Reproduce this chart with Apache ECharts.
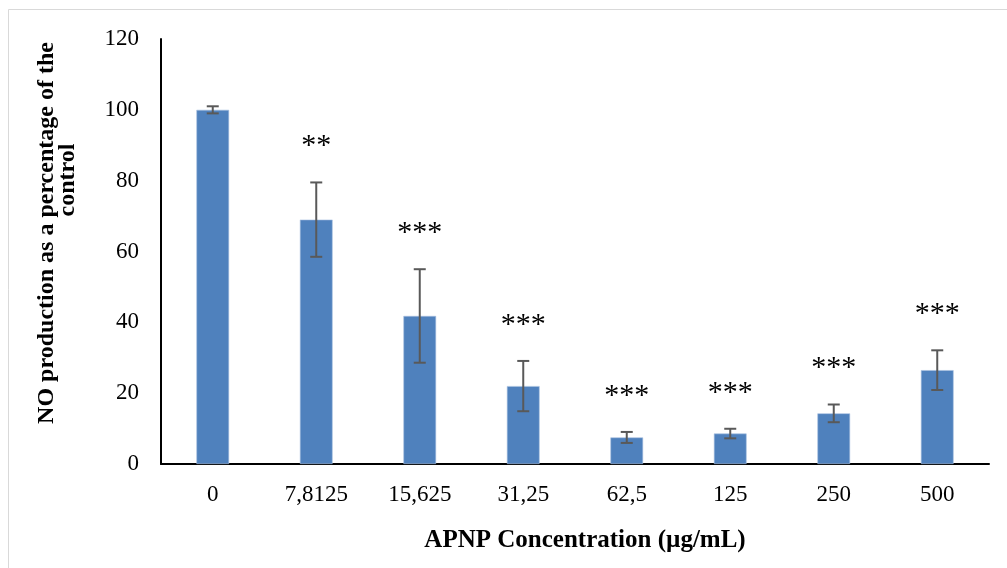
<!DOCTYPE html>
<html>
<head>
<meta charset="utf-8">
<script src="https://cdn.jsdelivr.net/npm/echarts@6/dist/echarts.min.js"></script>
<style>
html,body{margin:0;padding:0;background:#fff;}
#chart{width:1007px;height:568px;}
</style>
</head>
<body>
<div id="chart"></div>
<script>
const categories = ['0', '7,8125', '15,625', '31,25', '62,5', '125', '250', '500'];
const means = [100, 69, 41.8, 22, 7.5, 8.6, 14.3, 26.5];
const errors = [1, 10.5, 13.2, 7.1, 1.55, 1.35, 2.5, 5.6];
const significance = ['', '**', '***', '***', '***', '***', '***', '***'];
const yTicks = {min: 0, max: 120, interval: 20};
const xTitle = 'APNP Concentration (µg/mL)';
const yTitleLines = ['NO production as a percentage of the', 'control'];

const FONT = '"Liberation Serif", "Times New Roman", serif';
const chart = echarts.init(document.getElementById('chart'));

const errData = means.map((m, i) => [i, m - errors[i], m + errors[i], significance[i]]);

chart.setOption({
  animation: false,
  backgroundColor: '#fff',
  grid: {left: 161, right: 18, top: 39, bottom: 104},
  xAxis: {
    type: 'category',
    data: categories,
    axisLine: {lineStyle: {color: '#000', width: 2}},
    axisTick: {show: false},
    axisLabel: {fontFamily: FONT, fontSize: 23, color: '#000', margin: 19}
  },
  yAxis: {
    type: 'value',
    min: yTicks.min, max: yTicks.max, interval: yTicks.interval,
    axisLine: {show: true, lineStyle: {color: '#000', width: 2}},
    axisTick: {show: false},
    splitLine: {show: false},
    axisLabel: {fontFamily: FONT, fontSize: 23, color: '#000', margin: 22}
  },
  series: [
    {
      type: 'bar',
      data: means,
      barWidth: '31.6%',
      itemStyle: {color: '#4F81BD', borderColor: '#a9c1e0', borderWidth: 0.6}
    },
    {
      type: 'custom',
      data: errData,
      z: 10,
      renderItem: function (params, api) {
        const x = api.value(0);
        const lo = api.coord([x, api.value(1)]);
        const hi = api.coord([x, api.value(2)]);
        const half = 6;
        const style = {stroke: '#595959', lineWidth: 2};
        const children = [
          {type: 'line', shape: {x1: lo[0], y1: lo[1], x2: hi[0], y2: hi[1]}, style: style},
          {type: 'line', shape: {x1: lo[0] - half, y1: lo[1], x2: lo[0] + half, y2: lo[1]}, style: style},
          {type: 'line', shape: {x1: hi[0] - half, y1: hi[1], x2: hi[0] + half, y2: hi[1]}, style: style}
        ];
        const sig = significance[params.dataIndex];
        if (sig) {
          children.push({
            type: 'text',
            style: {
              text: sig, x: hi[0], y: hi[1] - 36,
              align: 'center', verticalAlign: 'middle',
              font: '30px ' + FONT, fill: '#000'
            }
          });
        }
        return {type: 'group', children: children};
      }
    }
  ],
  graphic: [
    {
      type: 'rect', silent: true, z: -10,
      shape: {x: 8.5, y: 9.5, width: 1200, height: 800},
      style: {fill: 'none', stroke: '#d9d9d9', lineWidth: 1}
    },
    {
      type: 'text', x: 585, y: 541,
      style: {text: xTitle, font: 'bold 25px ' + FONT, fill: '#000', align: 'center', verticalAlign: 'middle'}
    },
    {
      type: 'text', x: 47, y: 233, rotation: Math.PI / 2,
      style: {text: yTitleLines[0], font: 'bold 24px ' + FONT, fill: '#000', align: 'center', verticalAlign: 'middle'}
    },
    {
      type: 'text', x: 68, y: 180, rotation: Math.PI / 2,
      style: {text: yTitleLines[1], font: 'bold 24px ' + FONT, fill: '#000', align: 'center', verticalAlign: 'middle'}
    }
  ]
});
</script>
</body>
</html>
